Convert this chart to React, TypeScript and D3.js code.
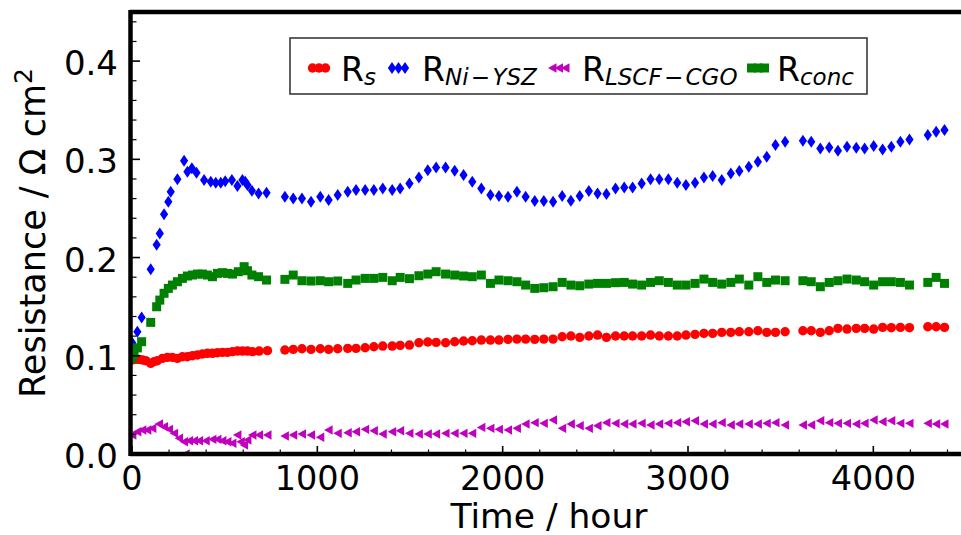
import React from "react";
import * as d3 from "d3";

// ---------------- data ----------------
const xTickValues = [0, 1000, 2000, 3000, 4000];
const yTickValues = [0.0, 0.1, 0.2, 0.3, 0.4];

// shared measurement times after the first interruption (hours)
const mainTimes = [
  825, 870, 917, 966, 1016, 1061, 1110, 1164, 1209, 1258, 1305, 1353, 1404, 1447, 1497, 1548,
  1596, 1641, 1692, 1741, 1789, 1836, 1885, 1934, 1980, 2029, 2077, 2124, 2173, 2222, 2272, 2321,
  2368, 2416, 2465, 2512, 2560, 2609, 2656, 2701, 2750, 2798, 2845, 2894, 2942, 2989, 3038, 3086,
  3133, 3182, 3231, 3277, 3328, 3377, 3425, 3472, 3524, 3620, 3665, 3714, 3762, 3809, 3858, 3908,
  3953, 4002, 4050, 4097, 4146, 4195, 4294, 4339, 4384,
];

// R_s
const rsEarlyTimes = [2, 20, 38, 56, 74, 101, 119, 137, 164, 191, 218, 245, 272, 299, 326, 353, 380, 407, 434, 461, 488, 515, 542, 569, 596, 623, 650, 686, 731];
const rsEarlyValues = [0.0957, 0.0963, 0.0963, 0.0957, 0.095, 0.0923, 0.094, 0.095, 0.0974, 0.0984, 0.0984, 0.0974, 0.099, 0.099, 0.1001, 0.1008, 0.1018, 0.1025, 0.1025, 0.1031, 0.1035, 0.1035, 0.1042, 0.1048, 0.1048, 0.1048, 0.1042, 0.1048, 0.1052];
const rsMainValues = [
  0.1059, 0.1065, 0.1072, 0.1065, 0.1072, 0.1065, 0.1072, 0.1075, 0.1075, 0.1082, 0.1092, 0.1099, 0.1099, 0.1106, 0.1109, 0.1133,
  0.114, 0.1136, 0.1133, 0.1143, 0.115, 0.1153, 0.116, 0.116, 0.116, 0.1167, 0.117, 0.117, 0.1167,
  0.117, 0.117, 0.1194, 0.1201, 0.1187, 0.1201, 0.1211, 0.1187, 0.1201, 0.1201, 0.1201, 0.1201, 0.1211, 0.1201, 0.1201, 0.1201,
  0.1211, 0.1218, 0.1228, 0.1228, 0.1238, 0.1238, 0.1245, 0.1245, 0.1255, 0.1238, 0.1238, 0.1245,
  0.1255, 0.1255, 0.1238, 0.1255, 0.1279, 0.1272, 0.1279, 0.1279, 0.1272, 0.1289, 0.1286, 0.1289, 0.1286,
  0.1296, 0.1296, 0.1289,
];

// R_Ni-YSZ
const niEarlyTimes = [2, 29, 52, 101, 133, 150, 173, 196, 209, 245, 281, 299, 323, 348, 389, 425, 452, 479, 503, 539, 569, 596, 611, 623, 647, 683, 726];
const niEarlyValues = [0.113, 0.1245, 0.139, 0.188, 0.213, 0.2246, 0.244, 0.2568, 0.267, 0.2796, 0.2985, 0.2873, 0.2908, 0.2864, 0.279, 0.2772, 0.2761, 0.2761, 0.2778, 0.279, 0.2728, 0.279, 0.2772, 0.2738, 0.268, 0.2653, 0.266];
const niMainValues = [
  0.2619, 0.2602, 0.2602, 0.2568, 0.2619, 0.2585, 0.2636, 0.267, 0.2687, 0.2687, 0.2687, 0.2704, 0.2687, 0.2704, 0.2755, 0.2816,
  0.289, 0.2918, 0.2918, 0.2884, 0.284, 0.2772, 0.2704, 0.2636, 0.2626, 0.2619, 0.267, 0.2619, 0.2575,
  0.2575, 0.2568, 0.2626, 0.2578, 0.2626, 0.2677, 0.2653, 0.2646, 0.2704, 0.2714, 0.2714, 0.2755, 0.2796, 0.2796, 0.2796, 0.2761,
  0.2738, 0.2761, 0.2816, 0.283, 0.279, 0.2857, 0.288, 0.2924, 0.2975, 0.3026, 0.3145, 0.3179,
  0.3189, 0.3179, 0.3111, 0.3121, 0.3087, 0.3128, 0.3118, 0.3111, 0.3135, 0.3101, 0.3128, 0.3179, 0.3203,
  0.3247, 0.3281, 0.3298,
];

// R_LSCF-CGO
const lscfEarlyTimes = [2, 29, 56, 83, 110, 146, 173, 200, 227, 254, 281, 290, 308, 335, 362, 398, 434, 461, 488, 515, 542, 569, 587, 605, 623, 650, 686, 731];
const lscfEarlyValues = [0.0193, 0.0227, 0.0244, 0.0244, 0.0261, 0.0305, 0.0278, 0.0251, 0.021, 0.016, 0.0125, 0.0, 0.0135, 0.0135, 0.0135, 0.0135, 0.0149, 0.0149, 0.0135, 0.0125, 0.0109, 0.0193, 0.0125, 0.0092, 0.0142, 0.0193, 0.0193, 0.0193];
const lscfMainValues = [
  0.0183, 0.0193, 0.0204, 0.0193, 0.017, 0.0244, 0.021, 0.0217, 0.0227, 0.0251, 0.0237, 0.0204, 0.0227, 0.0237, 0.021, 0.0204,
  0.0204, 0.0204, 0.021, 0.021, 0.021, 0.021, 0.0271, 0.0261, 0.0251, 0.0244, 0.0261, 0.0305, 0.0319,
  0.0312, 0.0346, 0.0261, 0.0305, 0.0288, 0.0261, 0.0288, 0.0319, 0.0312, 0.0305, 0.0305, 0.0312, 0.0295, 0.0305, 0.0312, 0.0319,
  0.0329, 0.0339, 0.0305, 0.0305, 0.0319, 0.0295, 0.0305, 0.0305, 0.0305, 0.0312, 0.0319, 0.0295,
  0.0295, 0.0295, 0.0339, 0.0319, 0.0312, 0.0312, 0.0305, 0.0312, 0.0346, 0.0329, 0.0339, 0.0312, 0.0312,
  0.0312, 0.0305, 0.0305,
];

// R_conc
const concEarlyTimes = [2, 11, 29, 52, 101, 133, 150, 173, 196, 218, 245, 272, 299, 326, 353, 380, 407, 434, 461, 488, 515, 542, 574, 605, 623, 647, 683, 726];
const concEarlyValues = [0.0975, 0.1035, 0.108, 0.1143, 0.134, 0.1499, 0.1567, 0.1636, 0.1686, 0.172, 0.1754, 0.1788, 0.1812, 0.1822, 0.1832, 0.1832, 0.1822, 0.1805, 0.1839, 0.1846, 0.1839, 0.1832, 0.1856, 0.1907, 0.1866, 0.1822, 0.1805, 0.1771];
const concMainValues = [
  0.1778, 0.1822, 0.1764, 0.1761, 0.1764, 0.1754, 0.1761, 0.1737, 0.1771, 0.1788, 0.1788, 0.1798, 0.1764, 0.1798, 0.1785, 0.1815,
  0.1832, 0.1856, 0.1832, 0.1822, 0.1812, 0.1805, 0.1822, 0.1737, 0.1771, 0.1764, 0.1754, 0.172, 0.1686,
  0.1693, 0.1703, 0.1747, 0.172, 0.1713, 0.173, 0.1737, 0.1737, 0.1744, 0.1747, 0.173, 0.172, 0.1747, 0.1764, 0.1747, 0.172,
  0.172, 0.1737, 0.1781, 0.1747, 0.173, 0.1747, 0.1781, 0.172, 0.1805, 0.1747, 0.1771, 0.1764,
  0.1764, 0.1754, 0.1703, 0.1747, 0.1764, 0.1781, 0.1771, 0.1754, 0.172, 0.1754, 0.1754, 0.1747, 0.172,
  0.1747, 0.1798, 0.1737,
];

// ---------------- layout ----------------
const W = 961;
const H = 535;
const PL = 132;
const PR = 966;
const PT = 12;
const PB = 454;
const FONT = "DejaVu Sans, Verdana, sans-serif";

const x = d3.scaleLinear().domain([0, 4500]).range([PL, PR]);
const y = d3.scaleLinear().domain([0, 0.45]).range([PB, PT]);

type Pt = { t: number; v: number };
const zip = (ts: number[], vs: number[]): Pt[] => ts.map((t, i) => ({ t, v: vs[i] }));

const series = [
  { key: "rs", color: "#ff0000", shape: "circle", data: [...zip(rsEarlyTimes, rsEarlyValues), ...zip(mainTimes, rsMainValues)] },
  { key: "ni", color: "#0000ff", shape: "diamond", data: [...zip(niEarlyTimes, niEarlyValues), ...zip(mainTimes, niMainValues)] },
  { key: "lscf", color: "#bf00bf", shape: "tri", data: [...zip(lscfEarlyTimes, lscfEarlyValues), ...zip(mainTimes, lscfMainValues)] },
  { key: "conc", color: "#008000", shape: "square", data: [...zip(concEarlyTimes, concEarlyValues), ...zip(mainTimes, concMainValues)] },
];

function Marker({ shape, cx, cy, color }: { shape: string; cx: number; cy: number; color: string }) {
  if (shape === "circle") return <circle cx={cx} cy={cy} r={4.7} fill={color} />;
  if (shape === "square") return <rect x={cx - 4.5} y={cy - 4.5} width={9} height={9} fill={color} />;
  if (shape === "diamond")
    return <path d={`M${cx},${cy - 6}L${cx + 4.1},${cy}L${cx},${cy + 6}L${cx - 4.1},${cy}Z`} fill={color} />;
  return <path d={`M${cx - 4.5},${cy}L${cx + 4},${cy - 4.7}L${cx + 4},${cy + 4.7}Z`} fill={color} />;
}

const xMinor = d3.range(0, 4501, 200);
const yMinor = d3.range(0, 0.4501, 0.02);

const legendItems = [
  { shape: "circle", color: "#ff0000", hx: 319, lx: 341, sub: "s" },
  { shape: "diamond", color: "#0000ff", hx: 398.5, lx: 422, sub: "Ni\u200A\u2212\u200AYSZ" },
  { shape: "tri", color: "#bf00bf", hx: 559, lx: 582, sub: "LSCF\u200A\u2212\u200ACGO" },
  { shape: "square", color: "#008000", hx: 758, lx: 777, sub: "conc" },
];

export default function App() {
  return (
    <svg
      width={W}
      height={H}
      viewBox={`0 0 ${W} ${H}`}
      style={{ position: "absolute", left: 0, top: 0, background: "#fff" }}
      fontFamily={FONT}
    >
      <defs>
        <clipPath id="plotclip">
          <rect x={PL} y={PT} width={PR - PL} height={PB - PT} />
        </clipPath>
      </defs>
      <rect x={0} y={0} width={W} height={H} fill="#fff" />

      <g clipPath="url(#plotclip)">
        {series.map((s) => (
          <g key={s.key}>
            {s.data.map((d, i) => (
              <Marker key={i} shape={s.shape} cx={x(d.t)} cy={y(d.v)} color={s.color} />
            ))}
          </g>
        ))}
      </g>

      {/* ticks (inward) */}
      {xMinor.map((t) => (
        <line key={"xm" + t} x1={x(t)} x2={x(t)} y1={PB} y2={PB - (t % 1000 === 0 ? 8 : 4.5)} stroke="#000" strokeWidth={t % 1000 === 0 ? 1.6 : 1.2} />
      ))}
      {yMinor.map((v, i) => (
        <line key={"ym" + i} x1={PL} x2={PL + (i % 5 === 0 ? 8 : 4.5)} y1={y(v)} y2={y(v)} stroke="#000" strokeWidth={i % 5 === 0 ? 1.6 : 1.2} />
      ))}

      {/* spines */}
      <line x1={PL - 2} x2={W + 5} y1={PT} y2={PT} stroke="#000" strokeWidth={4.5} />
      <line x1={PL - 2} x2={W + 5} y1={PB} y2={PB} stroke="#000" strokeWidth={4.5} />
      <line x1={PL - 1.5} x2={PL - 1.5} y1={PT - 2} y2={PB + 2} stroke="#000" strokeWidth={4.5} />

      {/* tick labels */}
      {xTickValues.map((t) => (
        <text key={"xl" + t} x={x(t)} y={489.5} textAnchor="middle" fontSize={33.5} fill="#000">
          {t}
        </text>
      ))}
      {yTickValues.map((v) => (
        <text key={"yl" + v} x={118} y={y(v) + 14} textAnchor="end" fontSize={34} fill="#000">
          {d3.format(".1f")(v)}
        </text>
      ))}

      {/* axis labels */}
      <text x={(PL + PR) / 2} y={527.5} textAnchor="middle" fontSize={34.5} fill="#000">
        Time / hour
      </text>
      <text transform={`translate(45,${(PT + PB) / 2}) rotate(-90)`} textAnchor="middle" fontSize={35} fill="#000">
        Resistance / Ω cm
        <tspan fontSize={25} dy={-13}>2</tspan>
      </text>

      {/* legend */}
      <rect x={290} y={38} width={577} height={56} fill="#fff" stroke="#3a3a3a" strokeWidth={1.6} />
      {legendItems.map((it, i) => (
        <g key={"lg" + i}>
          {[-6.5, 0, 6.5].map((o) => (
            <Marker key={o} shape={it.shape} cx={it.hx + o} cy={68} color={it.color} />
          ))}
          <text x={it.lx} y={81} fontSize={33} fill="#000">
            R
            <tspan fontSize={23} fontStyle="italic" dy={4}>
              {it.sub}
            </tspan>
          </text>
        </g>
      ))}
    </svg>
  );
}
